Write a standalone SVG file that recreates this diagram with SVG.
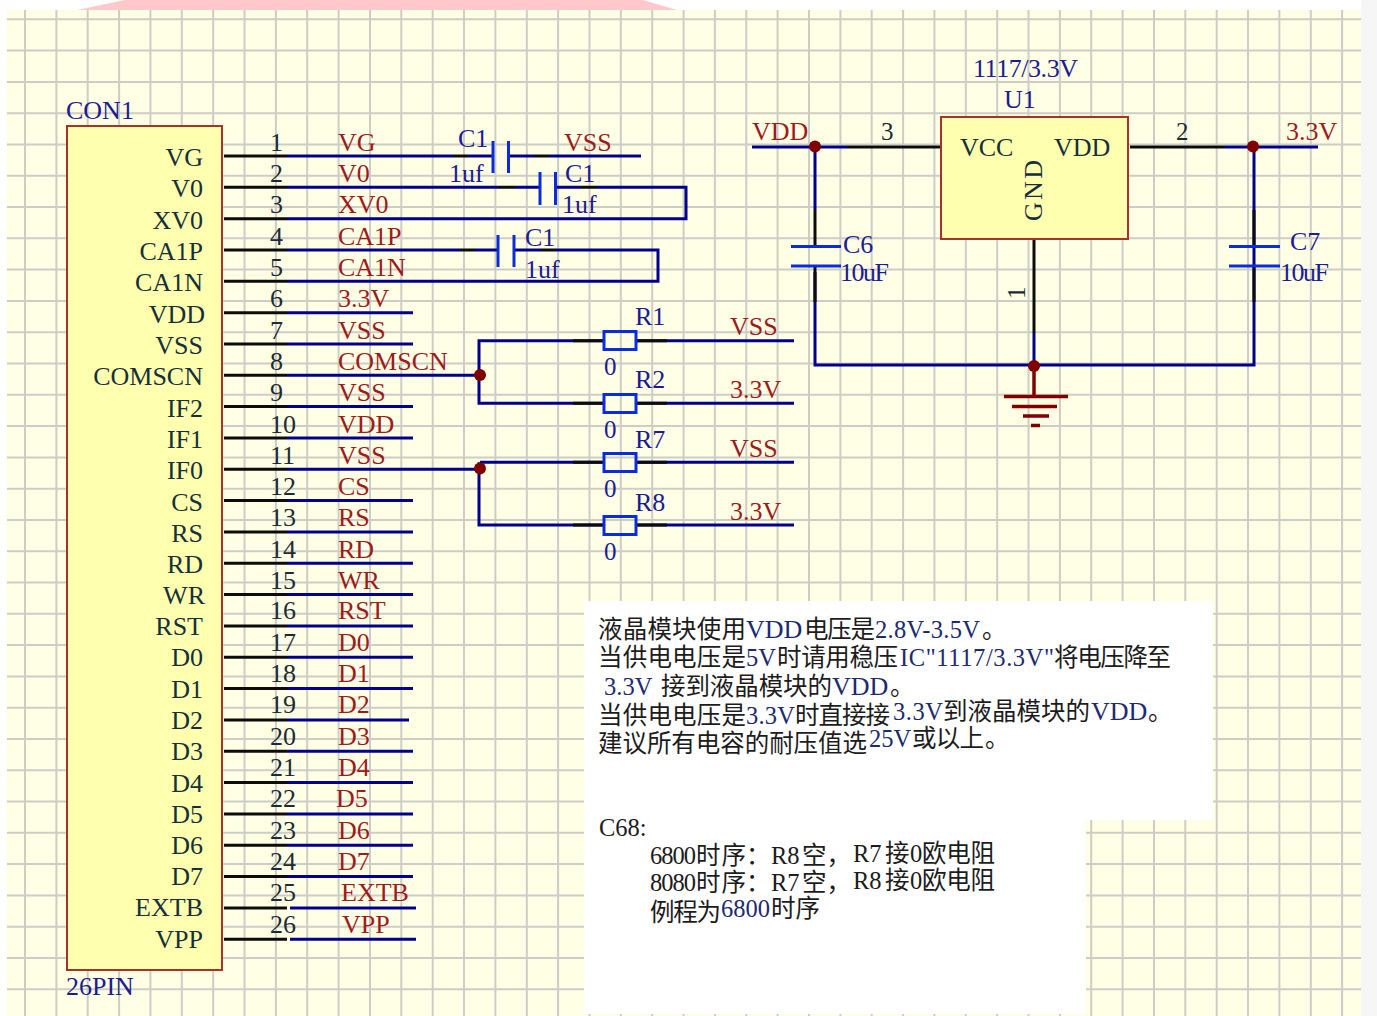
<svg xmlns="http://www.w3.org/2000/svg" width="1377" height="1016" viewBox="0 0 1377 1016">
<style>
text{font-family:"Liberation Serif","Noto Sans CJK SC",serif;font-size:26px}
.pn{fill:#16303a}
.num{fill:#1c2b33;font-size:25px}
.net{fill:#9c1c1c}
.ref{fill:#1c1c90}
.val{fill:#1c1c90;font-size:25px}
.note{fill:#1c1c1c;font-size:24.5px}
.lat{fill:#1c2a70}
.big{fill:#1c2a70;font-size:26px}
.w{fill:none;stroke:#00008c;stroke-width:3}
.k{fill:none;stroke:#0c0c0c;stroke-width:3}
.body{fill:#ffffb0;stroke:#a5332a;stroke-width:2}
.res{fill:none;stroke:#0a2cdc;stroke-width:3}
.plate{fill:none;stroke:#0a2cdc;stroke-width:3}
.dot{fill:#800000}
.gnd{fill:none;stroke:#800000;stroke-width:3.5}
</style>
<g id="background">
<rect x="0" y="0" width="1377" height="1016" fill="#ffffff"/>
<rect x="1361" y="0" width="16" height="1016" fill="#f6f6f6"/>
<polygon points="77,10 125,0 643,0 677,10" fill="#ffc9cb"/>
<rect x="7" y="10" width="1354" height="1006" fill="#ffffe6"/>
<path fill="none" stroke="#cdcdc8" stroke-width="2" d="M25 10V1016M56.4 10V1016M87.7 10V1016M119.1 10V1016M150.4 10V1016M181.8 10V1016M213.2 10V1016M244.5 10V1016M275.9 10V1016M307.2 10V1016M338.6 10V1016M370 10V1016M401.3 10V1016M432.7 10V1016M464 10V1016M495.4 10V1016M526.8 10V1016M558.1 10V1016M589.5 10V1016M620.8 10V1016M652.2 10V1016M683.6 10V1016M714.9 10V1016M746.3 10V1016M777.6 10V1016M809 10V1016M840.4 10V1016M871.7 10V1016M903.1 10V1016M934.4 10V1016M965.8 10V1016M997.2 10V1016M1028.5 10V1016M1059.9 10V1016M1091.2 10V1016M1122.6 10V1016M1154 10V1016M1185.3 10V1016M1216.7 10V1016M1248 10V1016M1279.4 10V1016M1310.8 10V1016M1342.1 10V1016M7 19.3H1361M7 50.6H1361M7 81.9H1361M7 113.2H1361M7 144.5H1361M7 175.8H1361M7 207H1361M7 238.3H1361M7 269.6H1361M7 300.9H1361M7 332.2H1361M7 363.5H1361M7 394.8H1361M7 426.1H1361M7 457.4H1361M7 488.7H1361M7 519.9H1361M7 551.2H1361M7 582.5H1361M7 613.8H1361M7 645.1H1361M7 676.4H1361M7 707.7H1361M7 739H1361M7 770.3H1361M7 801.6H1361M7 832.8H1361M7 864.1H1361M7 895.4H1361M7 926.7H1361M7 958H1361M7 989.3H1361"/>
<path fill="#ffffff" d="M584 601H1213V820H1086V1014H584Z"/>
</g>
<g id="connectors">
<path class="k" d="M224 156H287M224 187.3H287M224 218.7H287M224 250H287M224 281.3H287M224 312.7H287M224 344H287M224 375.3H287M224 406.6H287M224 438H287M224 469.3H287M224 500.6H287M224 532H287M224 563.3H287M224 594.6H287M224 626H287M224 657.3H287M224 688.6H287M224 719.9H287M224 751.3H287M224 782.6H287M224 813.9H287M224 845.3H287M224 876.6H287M224 907.9H287M224 939.3H287"/>
<path class="w" d="M287 312.7H413M287 344H413M287 406.6H413M287 438H413M287 500.6H413M287 532H413M287 563.3H413M287 594.6H413M287 626H413M287 657.3H413M287 688.6H413M287 719.9H409M287 751.3H413M287 782.6H413M287 813.9H413M287 845.3H413M287 876.6H413M290 907.9H416M290 939.3H416"/>
<path class="w" d="M287 156H453M468 156H492M509 156H534M549 156H641"/>
<path class="k" d="M453 156H468M534 156H549M498 187.3H515M581 187.3H597M460 250H475M541 250H556"/>
<path class="w" d="M287 187.3H498M515 187.3H540M556 187.3H581M597 187.3H686V218.7H287"/>
<path class="w" d="M287 250H460M475 250H498M514 250H541M556 250H658V281.3H287"/>
<path class="w" d="M287 375.3H480M287 469.3H480"/>
<path class="w" d="M604 340.7H479V403.3H604M480 462.3H604M479 462.3V525H604"/>
<path class="w" d="M636 340.7H794M636 403.3H794M636 462.3H794M636 525H794"/>
<path class="k" d="M573 340.7H604M636 340.7H667M573 403.3H604M636 403.3H667M573 462.3H604M636 462.3H667M573 525H604M636 525H667"/>
<path class="w" d="M752 147H847M1224 147H1318M815 147V210M815 272V365H1254V147M1254 147V210M1254 272V302M1034 333V365"/>
<path class="k" d="M847 147H941M1130 147H1224M1034 239V333M815 210V245M815 267V302M1254 210V245M1254 267V302"/>
<path class="gnd" d="M1034 365V396"/>
</g>
<g id="con1">
<rect class="body" x="67" y="126" width="155" height="844"/>
<text class="ref" x="66" y="119">CON1</text>
<text class="ref" x="66" y="995">26PIN</text>
<g class="pn" text-anchor="end">
<text x="203" y="166">VG</text><text x="203" y="197">V0</text><text x="203" y="228.5">XV0</text><text x="203" y="260">CA1P</text><text x="203" y="291">CA1N</text><text x="205" y="322.5">VDD</text><text x="203" y="353.8">VSS</text><text x="203" y="385.2">COMSCN</text><text x="203" y="416.5">IF2</text><text x="203" y="447.8">IF1</text><text x="203" y="479">IF0</text><text x="203" y="510.5">CS</text><text x="203" y="541.8">RS</text><text x="203" y="573">RD</text><text x="205" y="603.5">WR</text><text x="203" y="635">RST</text><text x="203" y="666">D0</text><text x="203" y="697.5">D1</text><text x="203" y="729">D2</text><text x="203" y="760">D3</text><text x="203" y="791.5">D4</text><text x="203" y="823">D5</text><text x="203" y="854">D6</text><text x="203" y="885">D7</text><text x="203" y="916">EXTB</text><text x="203" y="947.5">VPP</text>
</g>
<g class="num">
<text x="270" y="150.7">1</text><text x="270" y="182">2</text><text x="270" y="213.4">3</text><text x="270" y="244.7">4</text><text x="270" y="276">5</text><text x="270" y="307.4">6</text><text x="270" y="338.7">7</text><text x="270" y="370">8</text><text x="270" y="401.3">9</text><text x="270" y="432.7">10</text><text x="270" y="464">11</text><text x="270" y="495.3">12</text><text x="270" y="526.2">13</text><text x="270" y="557.5">14</text><text x="270" y="589.3">15</text><text x="270" y="619.2">16</text><text x="270" y="650.5">17</text><text x="270" y="681.8">18</text><text x="270" y="713.1">19</text><text x="270" y="744.5">20</text><text x="270" y="775.8">21</text><text x="270" y="807.1">22</text><text x="270" y="838.5">23</text><text x="270" y="869.8">24</text><text x="270" y="901.1">25</text><text x="270" y="932.5">26</text>
</g>
<g class="net">
<text x="338" y="150.7">VG</text><text x="338" y="182">V0</text><text x="338" y="213.4">XV0</text><text x="338" y="244.7">CA1P</text><text x="338" y="276">CA1N</text><text x="338" y="307.4">3.3V</text><text x="338" y="338.7">VSS</text><text x="338" y="370">COMSCN</text><text x="338" y="401.3">VSS</text><text x="338" y="432.7">VDD</text><text x="338" y="464">VSS</text><text x="338" y="495.3">CS</text><text x="338" y="526.2">RS</text><text x="338" y="557.5">RD</text><text x="338" y="589.3">WR</text><text x="338" y="619.2">RST</text><text x="338" y="650.5">D0</text><text x="338" y="681.8">D1</text><text x="338" y="713.1">D2</text><text x="338" y="744.5">D3</text><text x="338" y="775.8">D4</text><text x="336" y="807.1">D5</text><text x="338" y="838.5">D6</text><text x="338" y="869.8">D7</text><text x="341" y="901.1">EXTB</text><text x="342" y="932.5">VPP</text>
</g>
</g>
<g id="c1a">
<path class="plate" d="M493 141V173M508.5 141V173"/>
<text class="ref" x="458" y="147">C1</text><text class="ref" x="449" y="182">1uf</text><text class="net" x="564" y="151">VSS</text>
</g>
<g id="c1b">
<path class="plate" d="M540 172V205M555.5 172V205"/>
<text class="ref" x="565" y="182">C1</text><text class="ref" x="562" y="213">1uf</text>
</g>
<g id="c1c">
<path class="plate" d="M498 235V267M514 235V267"/>
<text class="ref" x="525" y="246">C1</text><text class="ref" x="525" y="278">1uf</text>
</g>
<g id="r1"><rect class="res" x="604" y="331.5" width="32" height="18"/><text class="ref" x="635" y="325">R1</text><text class="val" x="604" y="375">0</text><text class="net" x="730" y="335">VSS</text></g>
<g id="r2"><rect class="res" x="604" y="394.5" width="32" height="18"/><text class="ref" x="635" y="388">R2</text><text class="val" x="604" y="438">0</text><text class="net" x="730" y="398">3.3V</text></g>
<g id="r7"><rect class="res" x="604" y="453.5" width="32" height="18"/><text class="ref" x="635" y="448">R7</text><text class="val" x="604" y="497">0</text><text class="net" x="730" y="457">VSS</text></g>
<g id="r8"><rect class="res" x="604" y="516.5" width="32" height="18"/><text class="ref" x="635" y="511">R8</text><text class="val" x="604" y="560">0</text><text class="net" x="730" y="520">3.3V</text></g>
<g id="junctions">
<circle class="dot" cx="480" cy="375" r="6"/><circle class="dot" cx="480" cy="468.5" r="6"/><circle class="dot" cx="815" cy="146.5" r="6"/><circle class="dot" cx="1253" cy="146.5" r="6"/><circle class="dot" cx="1034" cy="366" r="6"/>
</g>
<g id="u1">
<rect class="body" x="941" y="117" width="187" height="122"/>
<text class="ref" x="973" y="77" textLength="105">1117/3.3V</text><text class="ref" x="1004" y="108">U1</text>
<text class="pn" x="960" y="156">VCC</text><text class="pn" x="1054" y="156">VDD</text>
<text class="pn" transform="translate(1042 221) rotate(-90)" textLength="61">GND</text>
<text class="num" x="881" y="140">3</text><text class="num" x="1176" y="140">2</text>
<text class="num" transform="translate(1025 299) rotate(-90)">1</text>
<text class="net" x="752" y="140">VDD</text><text class="net" x="1286" y="140">3.3V</text>
</g>
<g id="c6">
<path class="plate" d="M791 246.5H841M791 266H841"/>
<text class="ref" x="843" y="253">C6</text><text class="ref" x="840" y="281" textLength="49">10uF</text>
</g>
<g id="c7">
<path class="plate" d="M1229 246.5H1280M1229 266H1280"/>
<text class="ref" x="1290" y="250">C7</text><text class="ref" x="1280" y="281" textLength="49">10uF</text>
</g>
<g id="gnd">
<path class="gnd" d="M1004 396.5H1068M1012 406.5H1057M1023 416H1049M1031 425.5H1040"/>
</g>
<g id="note">
<text class="note" y="637.5"><tspan x="598" textLength="148">液晶模块使用</tspan><tspan x="746" class="big">VDD</tspan><tspan x="804" textLength="71">电压是</tspan><tspan x="875" class="lat" textLength="105">2.8V-3.5V</tspan><tspan x="982">。</tspan></text>
<text class="note" y="666"><tspan x="598" textLength="148">当供电电压是</tspan><tspan x="746" class="lat">5V</tspan><tspan x="777" textLength="121">时请用稳压</tspan><tspan x="900" class="lat" textLength="154">IC"1117/3.3V"</tspan><tspan x="1054" textLength="117">将电压降至</tspan></text>
<text class="note" y="695"><tspan x="604" class="lat">3.3V</tspan><tspan x="661" textLength="171">接到液晶模块的</tspan><tspan x="832" class="big">VDD</tspan><tspan x="890">。</tspan></text>
<text class="note" y="724"><tspan x="598" textLength="148">当供电电压是</tspan><tspan x="746" class="lat" textLength="49">3.3V</tspan><tspan x="795" textLength="95">时直接接</tspan></text>
<text class="note" y="720"><tspan x="893" class="lat" textLength="50">3.3V</tspan><tspan x="943" textLength="147">到液晶模块的</tspan><tspan x="1091" class="big">VDD</tspan><tspan x="1148">。</tspan></text>
<text class="note" y="752"><tspan x="598" textLength="269">建议所有电容的耐压值选</tspan></text>
<text class="note" y="747"><tspan x="869" class="lat">25V</tspan><tspan x="912" textLength="72">或以上</tspan><tspan x="985">。</tspan></text>
<text class="note" x="599" y="836">C68:</text>
<text class="note" y="864"><tspan x="650" textLength="46">6800</tspan><tspan x="696" textLength="50">时序</tspan><tspan x="746">：</tspan><tspan x="771">R8</tspan><tspan x="802">空，</tspan></text>
<text class="note" y="862"><tspan x="853">R7</tspan><tspan x="885">接</tspan><tspan x="910">0</tspan><tspan x="922" textLength="73">欧电阻</tspan></text>
<text class="note" y="891"><tspan x="650" textLength="46">8080</tspan><tspan x="696" textLength="50">时序</tspan><tspan x="746">：</tspan><tspan x="771">R7</tspan><tspan x="802">空，</tspan></text>
<text class="note" y="889"><tspan x="853">R8</tspan><tspan x="885">接</tspan><tspan x="910">0</tspan><tspan x="922" textLength="73">欧电阻</tspan></text>
<text class="note" y="921"><tspan x="650" textLength="71">例程为</tspan></text>
<text class="note" y="917"><tspan x="721" class="lat">6800</tspan><tspan x="771" textLength="49">时序</tspan></text>
</g>
</svg>
